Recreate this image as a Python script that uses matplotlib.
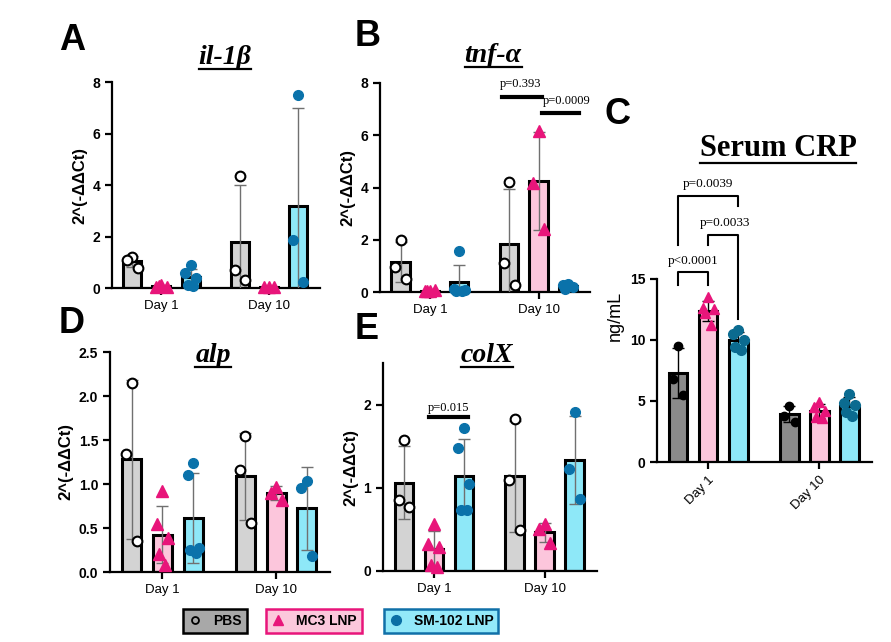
import numpy as np
import matplotlib.pyplot as plt
from matplotlib.lines import Line2D

plt.rcParams['font.family'] = ['Liberation Sans', 'DejaVu Sans']

groups = ['PBS', 'MC3 LNP', 'SM-102 LNP']
days = ['Day 1', 'Day 10']

# values per group: [day 1 points, day 10 points]
il1b_pbs = [[1.22, 1.1, 0.78], [4.35, 0.71, 0.32]]
il1b_mc3 = [[0.1, 0.05, 0.02, 0.08], [0.05, 0.03, 0.02]]
il1b_sm = [[0.9, 0.58, 0.4, 0.1, 0.07], [7.48, 1.87, 0.23]]

tnf_pbs = [[1.98, 0.96, 0.51], [4.2, 1.1, 0.25]]
tnf_mc3 = [[0.05, 0.02, 0.08, 0.03], [6.15, 4.16, 2.43]]
tnf_sm = [[1.58, 0.12, 0.06, 0.05, 0.03], [0.3, 0.25, 0.2, 0.12]]

alp_pbs = [[2.15, 1.34, 0.35], [1.54, 1.16, 0.56]]
alp_mc3 = [[0.92, 0.54, 0.39, 0.2, 0.08], [0.97, 0.9, 0.82]]
alp_sm = [[1.24, 1.1, 0.27, 0.25, 0.22], [1.03, 0.96, 0.18]]

colx_pbs = [[1.57, 0.85, 0.77], [1.83, 1.09, 0.49]]
colx_mc3 = [[0.57, 0.33, 0.29, 0.07, 0.05], [0.56, 0.5, 0.34]]
colx_sm = [[1.72, 1.48, 1.05, 0.73, 0.73], [1.91, 1.23, 0.86]]

crp_pbs = [[9.5, 6.8, 5.5], [4.6, 3.8, 3.3]]
crp_mc3 = [[13.5, 12.6, 12.5, 12.2, 11.2], [4.9, 4.5, 4.2, 3.7, 3.6]]
crp_sm = [[10.8, 10.5, 10.0, 9.4, 9.2], [5.6, 4.8, 4.7, 4.1, 3.8]]

# significance annotations (value labels)
tnf_p = ['p=0.393', 'p=0.0009']
colx_p = ['p=0.015']
crp_p = ['p<0.0001', 'p=0.0033', 'p=0.0039']

GAP = 3.7
W = 0.62
PINK = '#e8157a'
BLUE = '#0a72aa'

fig = plt.figure(figsize=(8.91, 6.42), dpi=100)


def px_axes(l, r, top, bot):
    return fig.add_axes([l / 891, (642 - bot) / 642, (r - l) / 891, (bot - top) / 642])


def jitter(n):
    pat = [0.0, -0.18, 0.18, -0.1, 0.1]
    return np.array(pat[:n])


def draw_panel(ax, pbs, mc3, sm, crp=False):
    data = [pbs, mc3, sm]
    if crp:
        colors = ['#8a8a8a', '#fcc6dc', '#8ee8f8']
        pstyle = [dict(marker='o', mfc='black', mec='black', ms=6),
                  dict(marker='^', mfc=PINK, mec=PINK, ms=7),
                  dict(marker='o', mfc='#0b6b90', mec='#0b6b90', ms=7)]
        ecol = 'black'
    else:
        colors = ['#d3d3d3', '#fcc6dc', '#8ee8f8']
        pstyle = [dict(marker='o', mfc='white', mec='black', ms=7, mew=1.5),
                  dict(marker='^', mfc=PINK, mec=PINK, ms=8),
                  dict(marker='o', mfc=BLUE, mec=BLUE, ms=7)]
        ecol = '#707070'
    for gi, vals in enumerate(data):
        for di in range(2):
            pts = np.array(vals[di])
            x = di * GAP + (gi - 1)
            m = pts.mean()
            sd = pts.std(ddof=1)
            ax.bar(x, m, width=W, color=colors[gi], edgecolor='black', linewidth=2.2, zorder=2)
            ax.errorbar(x, m, yerr=sd, color=ecol, capsize=4, lw=1, capthick=1, zorder=3)
            ax.plot(x + jitter(len(pts)), pts, ls='none', zorder=4, clip_on=False, **pstyle[gi])
    ax.set_xlim(-1.7, GAP + 1.75)
    ax.set_xticks([0, GAP])
    for s in ['top', 'right']:
        ax.spines[s].set_visible(False)
    for s in ['left', 'bottom']:
        ax.spines[s].set_linewidth(1.6)
    ax.tick_params(axis='both', width=1.6, length=5)
    ax.tick_params(axis='y', labelsize=10)
    ax.set_facecolor('none')


def gene_axes(ax, ylim, yticks, fmt):
    ax.set_ylim(*ylim)
    ax.set_yticks(yticks)
    ax.set_yticklabels([fmt.format(v) for v in yticks], fontweight='bold')
    ax.set_xticklabels(days, fontsize=9.5)
    ax.set_ylabel('2^(-ΔΔCt)', fontsize=12, fontweight='bold', labelpad=4)


# A
axA = px_axes(112, 320, 82, 288)
draw_panel(axA, il1b_pbs, il1b_mc3, il1b_sm)
gene_axes(axA, (0, 8), [0, 2, 4, 6, 8], '{:g}')

# B
axB = px_axes(380, 590, 83, 292)
draw_panel(axB, tnf_pbs, tnf_mc3, tnf_sm)
gene_axes(axB, (0, 8), [0, 2, 4, 6, 8], '{:g}')
axB.plot([2.45, 3.8], [7.45, 7.45], color='black', lw=3, clip_on=False)
axB.text(3.1, 7.75, tnf_p[0], ha='center', va='bottom', fontsize=9, family='Liberation Serif')
axB.plot([3.83, 5.08], [6.87, 6.87], color='black', lw=3, clip_on=False)
axB.text(4.65, 7.1, tnf_p[1], ha='center', va='bottom', fontsize=9, family='Liberation Serif')

# D
axD = px_axes(110, 330, 352, 572)
draw_panel(axD, alp_pbs, alp_mc3, alp_sm)
gene_axes(axD, (0, 2.5), [0, 0.5, 1.0, 1.5, 2.0, 2.5], '{:.1f}')

# E
axE = px_axes(383, 597, 363, 571)
draw_panel(axE, colx_pbs, colx_mc3, colx_sm)
gene_axes(axE, (0, 2.5), [0, 1, 2], '{:g}')
axE.plot([-0.15, 1.14], [1.85, 1.85], color='black', lw=3)
axE.text(0.5, 1.89, colx_p[0], ha='center', va='bottom', fontsize=9, family='Liberation Serif')

# C
axC = px_axes(657, 872, 169, 462)
draw_panel(axC, crp_pbs, crp_mc3, crp_sm, crp=True)
axC.set_ylim(0, 24)
axC.set_yticks([0, 5, 10, 15])
axC.set_yticklabels(['0', '5', '10', '15'], fontweight='bold')
axC.spines['left'].set_bounds(0, 15)
axC.set_xticklabels(days, fontsize=9.5, rotation=45, ha='right', rotation_mode='anchor')
axC.set_ylabel('ng/mL', fontsize=13)
bk = dict(color='black', lw=1.5, clip_on=False)
axC.plot([-1, -1, 0, 0], [14.5, 15.55, 15.55, 14.5], **bk)
axC.text(-0.5, 16.0, crp_p[0], ha='center', va='bottom', fontsize=9.5, family='Liberation Serif')
axC.plot([0, 0, 1, 1], [17.8, 18.6, 18.6, 11.7], **bk)
axC.text(0.55, 19.1, crp_p[1], ha='center', va='bottom', fontsize=9.5, family='Liberation Serif')
axC.plot([-1, -1, 1, 1], [17.8, 21.8, 21.8, 21.0], **bk)
axC.text(0.0, 22.3, crp_p[2], ha='center', va='bottom', fontsize=9.5, family='Liberation Serif')

# titles
titles = [('il-1β', 225, 57, True, 20), ('tnf-α', 493, 55, True, 20),
          ('alp', 213, 355, True, 20), ('colX', 487, 356, True, 20),
          ('Serum CRP', 778, 149, False, 22)]
ttexts = []
for t, x, y, it, fs in titles:
    ttexts.append(fig.text(x / 891, 1 - y / 642, t, ha='center', va='center', fontsize=fs,
                           fontweight='bold', style='italic' if it else 'normal',
                           family='Liberation Serif'))

# panel letters
for t, x, y in [('A', 72, 40), ('B', 368, 37), ('C', 618, 114), ('D', 72, 324), ('E', 367, 330)]:
    fig.text(x / 891, 1 - y / 642, t, ha='center', va='center', fontsize=26, fontweight='bold')

# underline the titles
fig.canvas.draw()
inv = fig.transFigure.inverted()
for tx in ttexts:
    bb = tx.get_window_extent()
    (x0, y0), (x1, _) = inv.transform([(bb.x0, bb.y0 + 1), (bb.x1, bb.y0)])
    fig.add_artist(Line2D([x0, x1], [y0, y0], color='black', lw=1.6))

# legend boxes
leg_specs = [
    (groups[0], dict(marker='o', mfc='none', mec='black', ms=5, mew=1.3), '#a8a8a8', 'black', 215),
    (groups[1], dict(marker='^', mfc=PINK, mec=PINK, ms=7), '#fcc8dc', PINK, 314),
    (groups[2], dict(marker='o', mfc='#0a6fa5', mec='#0a6fa5', ms=7), '#93e9f9', '#1070a8', 441),
]
for lab, mk, fc, ec, cx in leg_specs:
    h = Line2D([], [], ls='none', **mk)
    lg = fig.legend(handles=[h], labels=[lab], loc='center', bbox_to_anchor=(cx / 891, 1 - 621 / 642),
                    frameon=True, fancybox=False, facecolor=fc, edgecolor=ec, framealpha=1,
                    handlelength=1.0, handletextpad=0.8, borderpad=0.35,
                    prop=dict(weight='bold', size=10))
    lg.get_frame().set_linewidth(1.8)

fig.savefig('out.png', dpi=100)
